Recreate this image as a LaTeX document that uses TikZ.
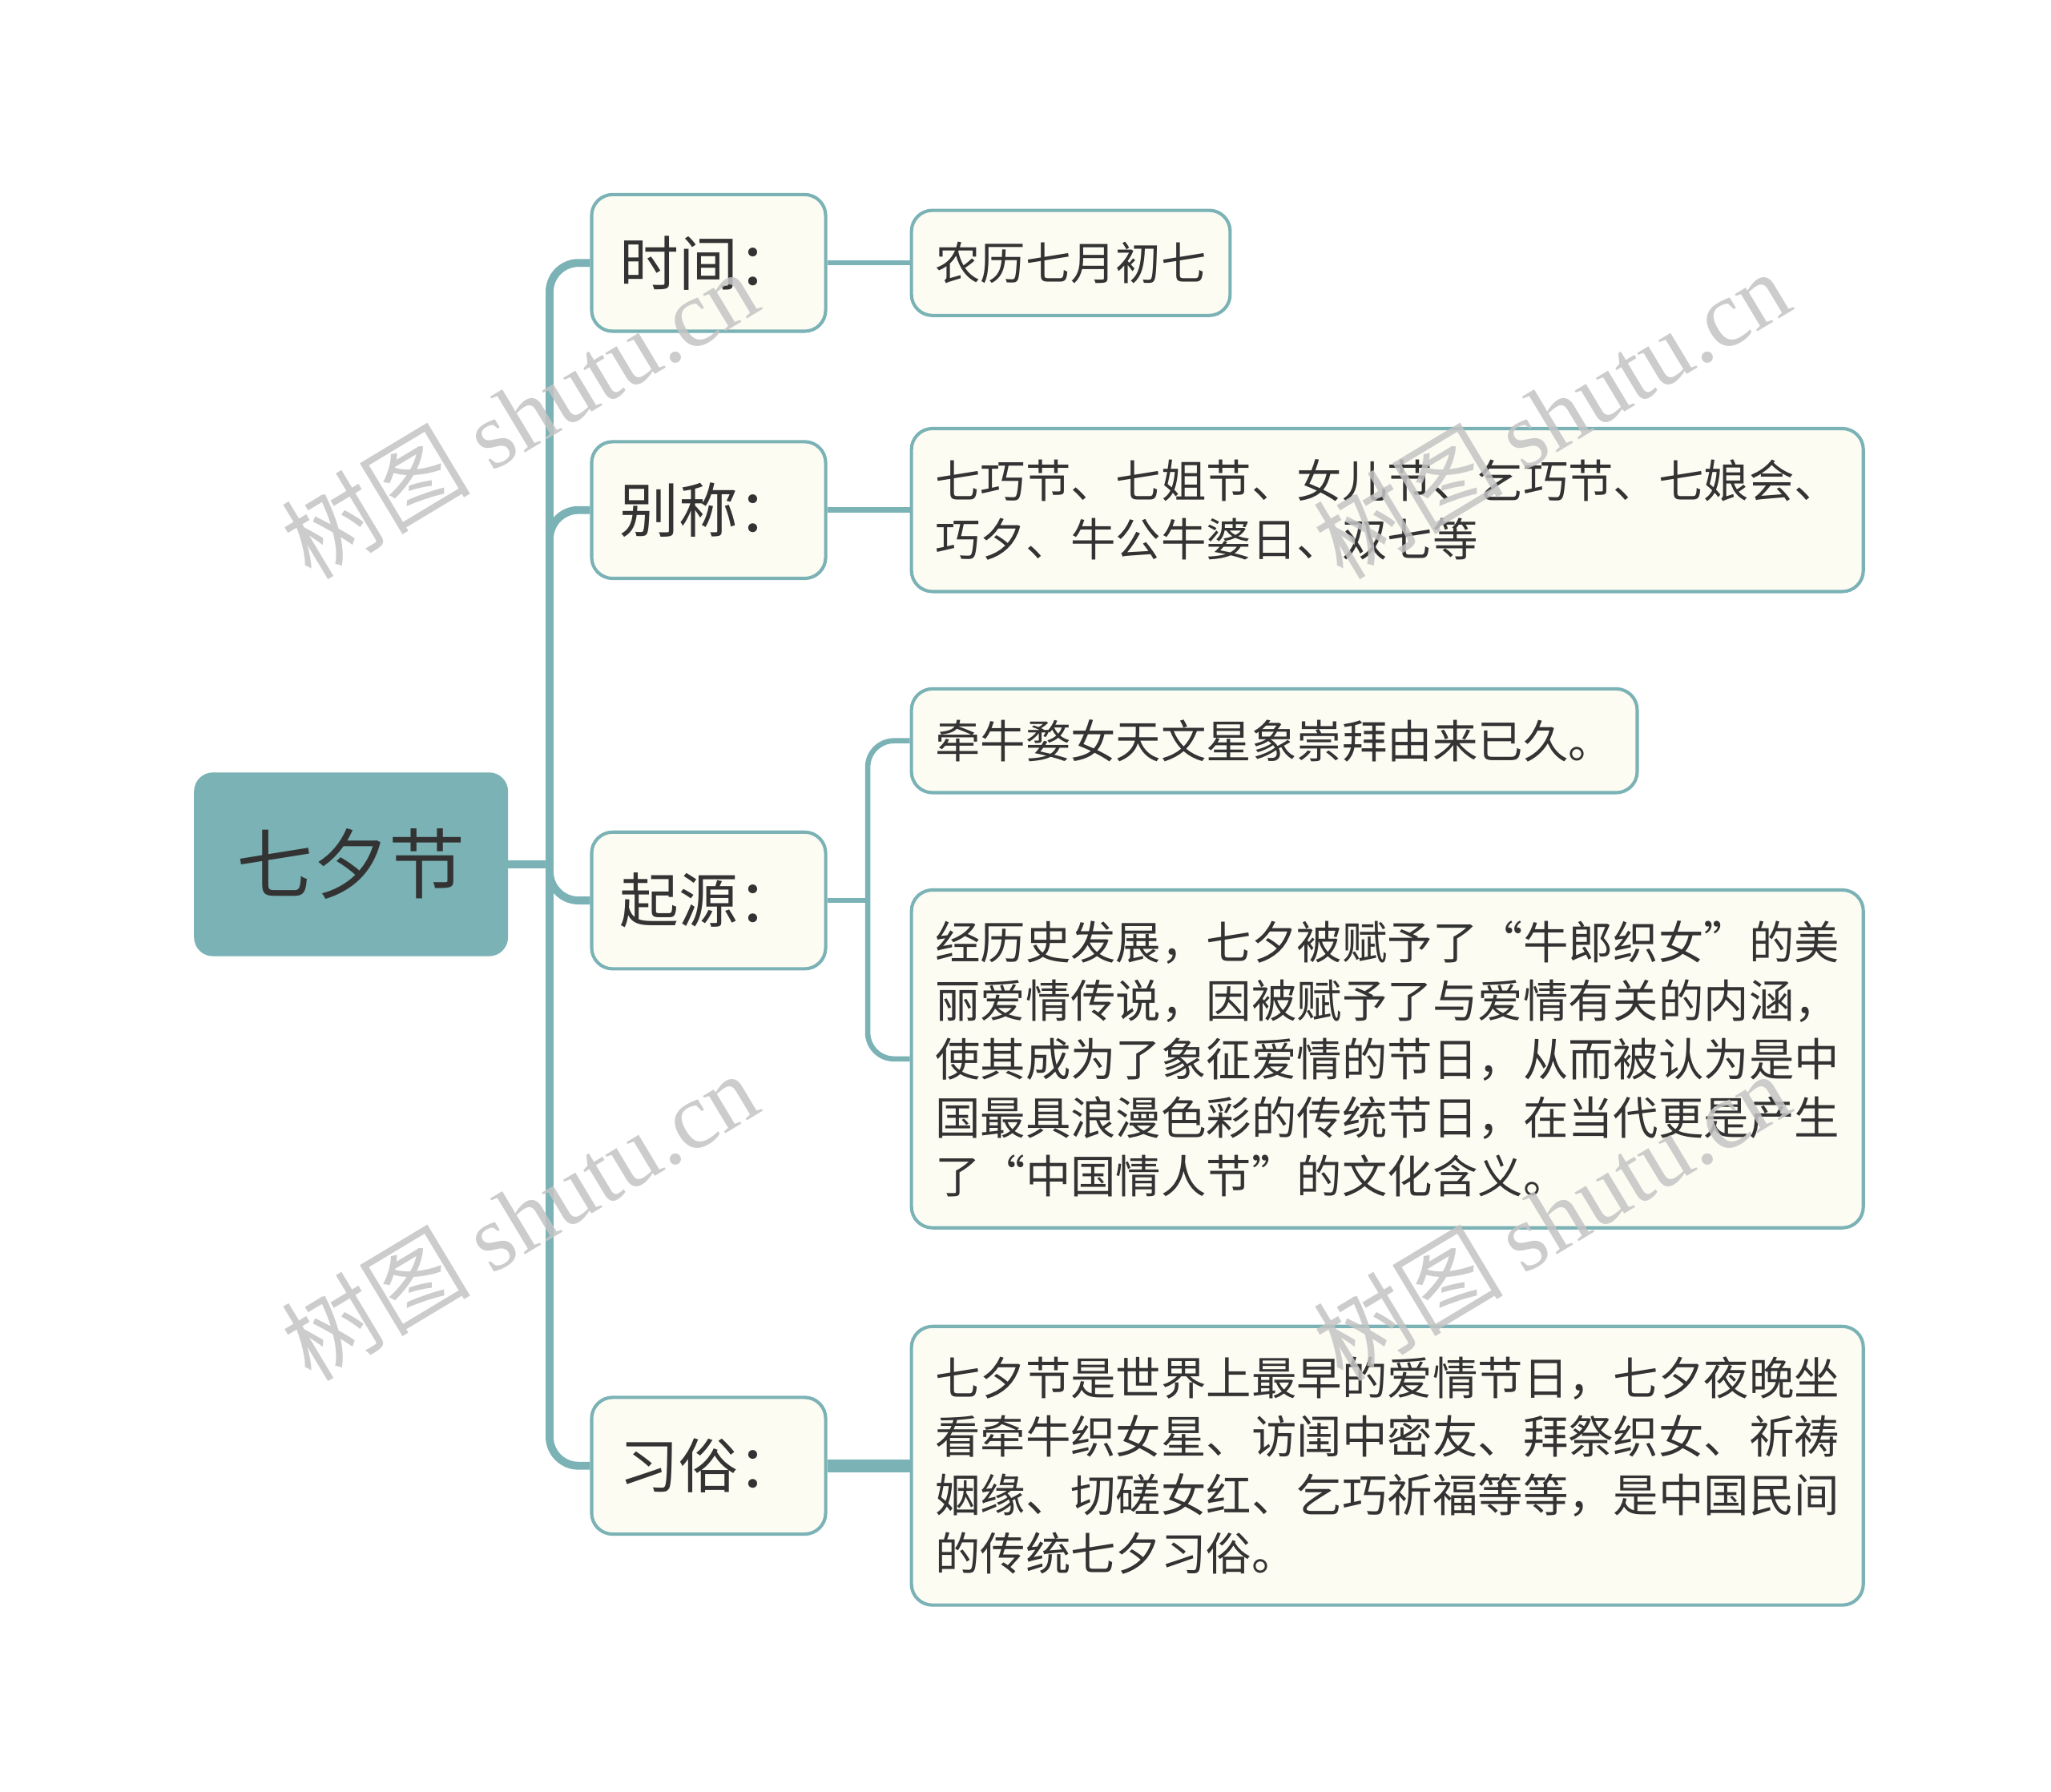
\documentclass[tikz,border=0pt]{standalone}
\usepackage{fontspec}
\setmainfont{Noto Sans CJK SC}
\newfontfamily\wmlatin{Liberation Serif}
\newfontfamily\wmcjk{Noto Sans CJK SC}
\definecolor{teal1}{HTML}{7AB2B5}
\definecolor{cream}{HTML}{FDFCF3}
\definecolor{ink}{HTML}{333333}
\definecolor{wm}{HTML}{C4C4C4}
\begin{document}
\begin{tikzpicture}[x=0.5pt,y=-0.5pt,
 rootbox/.style={fill=teal1, draw=teal1, rounded corners=7pt, minimum width=119pt, minimum height=69.5pt, text=ink, font=\fontsize{29}{34}\selectfont, inner sep=0pt},
 labbox/.style={fill=cream, draw=teal1, line width=1.25pt, rounded corners=8pt, minimum width=89pt, minimum height=52pt, text=ink, font=\fontsize{22.5}{27}\selectfont, inner sep=0pt},
 leafbox/.style={fill=cream, draw=teal1, line width=1.25pt, rounded corners=8pt, text=ink, font=\fontsize{17.2}{22.2}\selectfont, inner xsep=9pt, inner ysep=0pt, align=left, anchor=west},
 trunk/.style={draw=teal1, line width=3pt, rounded corners=11pt},
 twig/.style={draw=teal1, line width=2pt, rounded corners=10pt},
 wmark/.style={rotate=31, text=wm, opacity=0.85, font=\fontsize{36}{40}\selectfont},
]
\fill[white] (0,0) rectangle (1560,1363);
\useasboundingbox (0,0) rectangle (1560,1363);

\coordinate (J) at (418,657.5);
\coordinate (J2) at (660,685);

\node[rootbox] (root) at (267,657.5) {七夕节};
\node[labbox] (lab1) at (539,200) {时间：};
\node[labbox] (lab2) at (539,388) {别称：};
\node[labbox] (lab3) at (539,685) {起源：};
\node[labbox] (lab4) at (539,1115) {习俗：};

\node[leafbox, minimum height=40pt] (leaf1) at (692,200) {农历七月初七};
\node[leafbox, minimum height=62pt] (leaf2) at (692,388) {七巧节、七姐节、女儿节、乞巧节、七娘会、\\巧夕、牛公牛婆日、双七等};
\node[leafbox, minimum height=39.5pt] (leaf3a) at (692,563.5) {牵牛婺女天文星象崇拜由来已久。};
\node[leafbox, minimum height=128.5pt] (leaf3b) at (692,805.5) {经历史发展，七夕被赋予了“牛郎织女”的美\\丽爱情传说，因被赋予了与爱情有关的内涵，\\使其成为了象征爱情的节日，从而被认为是中\\国最具浪漫色彩的传统节日，在当代更是产生\\了“中国情人节”的文化含义。};
\node[leafbox, minimum height=106pt] (leaf4) at (692,1115) {七夕节是世界上最早的爱情节日，七夕夜晚坐\\看牵牛织女星、访闺中密友、拜祭织女、祈祷\\姻缘、切磋女红、乞巧祈福等等，是中国民间\\的传统七夕习俗。};

\draw[trunk, rounded corners=0pt] (root.east) -- (J);
\draw[trunk] (J) |- (lab1.west);
\draw[trunk] (J) |- (lab2.west);
\draw[trunk] (J) |- (lab3.west);
\draw[trunk] (J) |- (lab4.west);

\draw[twig] (lab1.east) -- (leaf1.west);
\draw[twig] (lab2.east) -- (leaf2.west);
\draw[twig, rounded corners=0pt] (lab3.east) -- (J2);
\draw[twig] (J2) |- (leaf3a.west);
\draw[twig] (J2) |- (leaf3b.west);
\draw[twig, line width=5pt] (lab4.east) -- (leaf4.west);

\node[wmark] (wm1) at (395,315) {\wmcjk 树图 \wmlatin shutu.cn};
\node[wmark] (wm2) at (395,925) {\wmcjk 树图 \wmlatin shutu.cn};
\node[wmark] (wm3) at (1180,315) {\wmcjk 树图 \wmlatin shutu.cn};
\node[wmark] (wm4) at (1180,925) {\wmcjk 树图 \wmlatin shutu.cn};
\end{tikzpicture}
\end{document}
